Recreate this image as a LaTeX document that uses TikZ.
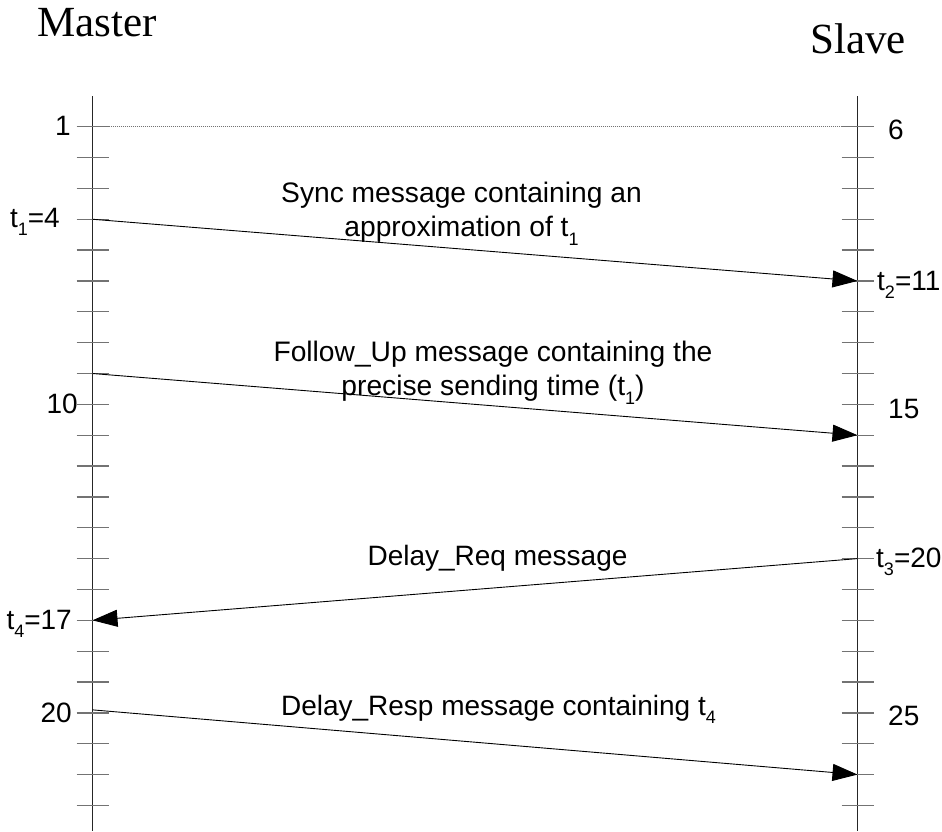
\documentclass[tikz,border=0pt]{standalone}
\usepackage{fontspec}
\setmainfont{Liberation Serif}
\setsansfont{Liberation Sans}
\usetikzlibrary{arrows.meta}
\newcommand\tsub[1]{\raisebox{-0.32em}{\fontsize{18}{18}\selectfont #1}}
\tikzset{
  axisline/.style={line width=1.3pt, black!85},
  tickline/.style={line width=1.3pt, black!55},
  msg/.style={line width=0.9pt, black, -{Triangle[length=25pt,width=17pt]}},
  lbl/.style={inner sep=0pt, font=\sffamily\fontsize{28}{34}\selectfont},
  msglbl/.style={inner sep=0pt, align=center, font=\sffamily\fontsize{28.2}{34}\selectfont},
  title/.style={inner sep=0pt, font=\rmfamily\fontsize{43}{43}\selectfont},
}
\begin{document}
\begin{tikzpicture}[x=1pt,y=-1pt]
\useasboundingbox (0,0) rectangle (942,831);
\def\mx{92.5}
\def\sx{857.5}
% axes
\coordinate (mtop) at (\mx,96);
\coordinate (mbot) at (\mx,831);
\coordinate (stop) at (\sx,96);
\coordinate (sbot) at (\sx,831);
\draw[axisline] (mtop) -- (mbot);
\draw[axisline] (stop) -- (sbot);
% ticks
\foreach \k in {1,...,23}{
  \coordinate (m\k) at (\mx,{126.7+(\k-1)*30.85});
  \draw[tickline] ([xshift=-16pt]m\k) -- ([xshift=16pt]m\k);
}
\foreach \k in {6,...,28}{
  \coordinate (s\k) at (\sx,{126.7+(\k-6)*30.85});
  \draw[tickline] ([xshift=-16pt]s\k) -- ([xshift=16pt]s\k);
}
% titles
\node[title, anchor=base west] (master) at (37,36) {Master};
\node[title, anchor=base west] (slave) at (810,53) {Slave};
% dotted reference line
\draw[black!55, line width=0.9pt, dash pattern=on 1pt off 1pt] (m1) -- (s6);
% master labels
\node[lbl, anchor=base east] (l1) at (71,135) {1};
\node[lbl, anchor=base east] (lt1) at (60,227) {t\tsub{1}=4};
\node[lbl, anchor=base east] (l10) at (78,413) {10};
\node[lbl, anchor=base east] (lt4) at (72,629) {t\tsub{4}=17};
\node[lbl, anchor=base east] (l20) at (72,722) {20};
% slave labels
\node[lbl, anchor=base west] (l6) at (888,139) {6};
\node[lbl, anchor=base west] (lt2) at (877,290) {t\tsub{2}=11};
\node[lbl, anchor=base west] (l15) at (888,418) {15};
\node[lbl, anchor=base west] (lt3) at (876,567) {t\tsub{3}=20};
\node[lbl, anchor=base west] (l25) at (888,725) {25};
% messages
\draw[msg] (m4) -- (s11);
\draw[msg] (m9) -- (s16);
\draw[msg] (s20) -- (m17);
\draw[msg] ([yshift=3pt]m20) -- (s27);
% message labels
\node[msglbl] (sync) at (461.5,214) {Sync message containing an\\approximation of t\tsub{1}};
\node[msglbl] (fup) at (493,373) {Follow\_Up message containing the\\precise sending time (t\tsub{1})};
\node[lbl, anchor=base] (dreq) at (497.5,565) {Delay\_Req message};
\node[lbl, anchor=base] (dresp) at (498.5,715) {Delay\_Resp message containing t\tsub{4}};
\end{tikzpicture}
\end{document}
